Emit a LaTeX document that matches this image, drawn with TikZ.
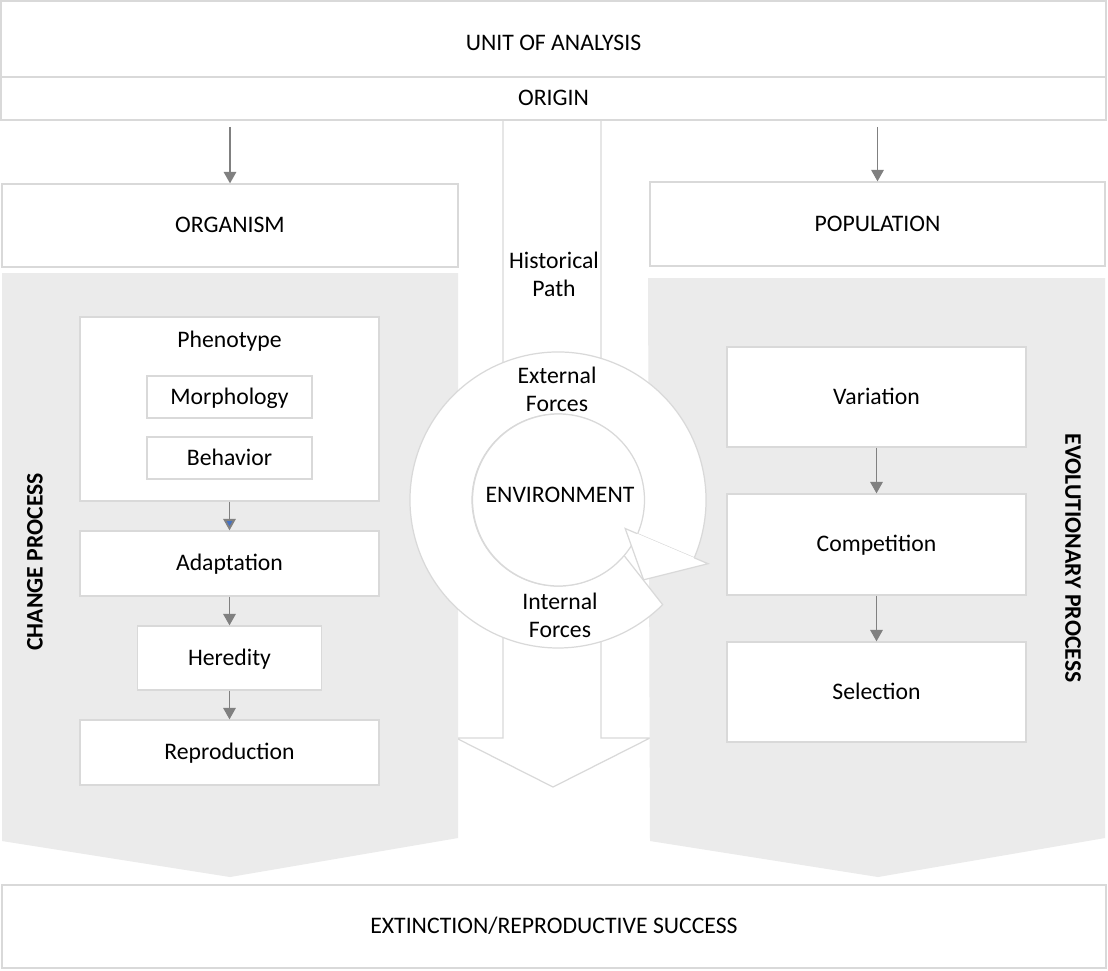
\documentclass[tikz,border=0pt]{standalone}
\usepackage{fontspec}
\setmainfont{Carlito}
\usepackage{tikz}
\usetikzlibrary{arrows.meta}
\usetikzlibrary{positioning}

\definecolor{panelgray}{HTML}{EBEBEB}
\definecolor{boxline}{HTML}{D9D9D9}
\definecolor{arrgray}{HTML}{808080}
\definecolor{headblue}{HTML}{4472C4}

\begin{document}
\begin{tikzpicture}[x = 0.02cm, y = -0.02cm,
  every node/.style = {font = \fontsize{13.5}{16}\selectfont, inner sep = 0pt},
  line/.style = {text height = 11pt, text depth = 2.5pt},
  box/.style = {line, draw = boxline, line width = 0.7pt, fill = white},
  panel/.style = {fill = panelgray},
  arr/.style = {draw = arrgray, line width = 1.1pt, -{Triangle[length = 6.5pt, width = 7pt]}},
  vlabel/.style = {font = \fontsize{13.5}{16}\selectfont\bfseries}]
\useasboundingbox (0, 0) rectangle (1108, 970);
\fill[white] (0, 0) rectangle (1108, 970);
% historical path
\draw[box] (503, 120) -- (503, 738) -- (456, 738) -- (553, 787) -- (650, 738) -- (601, 738) -- (601, 120);
% panels
\fill[panel] (2, 273) -- (458, 273) -- (458, 838) -- (230, 877) -- (2, 841) -- cycle;
\fill[panel] (648, 278) -- (1105, 278) -- (1105, 838) -- (878, 877) -- (650, 841) -- cycle;
% top and bottom
\node[box, minimum width = 22.1cm, minimum height = 1.52cm, text height = 14pt, text depth = 0.7pt] (unit) at (553.5, 39) {UNIT OF ANALYSIS};
\node[box, minimum width = 22.1cm, minimum height = 0.86cm] (origin) at (553.5, 98.5) {ORIGIN};
\node[box, minimum width = 22.08cm, minimum height = 1.66cm] (extinct) at (554, 926.5) {EXTINCTION/REPRODUCTIVE SUCCESS};
\node[box, minimum width = 9.12cm, minimum height = 1.66cm] (organism) at (230, 225.5) {ORGANISM};
\node[box, minimum width = 9.1cm, minimum height = 1.68cm] (population) at (877.5, 224) {POPULATION};
% left side
\node[box, minimum width = 5.98cm, minimum height = 3.68cm] (pheno) at (229.5, 409) {};
\node[line] (phenotext) at (229.5, 340) {Phenotype};
\node[box, minimum width = 3.3cm, minimum height = 0.84cm] (morph) at (229.5, 397) {Morphology};
\node[box, minimum width = 3.3cm, minimum height = 0.84cm] (behav) at (229.5, 458) {Behavior};
\node[box, minimum width = 5.98cm, minimum height = 1.3cm] (adapt) at (229.5, 563.5) {Adaptation};
\node[box, minimum width = 3.68cm, minimum height = 1.28cm] (hered) at (229.5, 658) {Heredity};
\node[box, minimum width = 5.98cm, minimum height = 1.3cm] (repro) at (229.5, 752.5) {Reproduction};
\node[vlabel, rotate = 90] (change) at (35, 562) {CHANGE PROCESS};
% right side
\node[box, minimum width = 5.98cm, minimum height = 2cm] (var) at (876.5, 397) {Variation};
\node[box, minimum width = 5.98cm, minimum height = 2.02cm] (comp) at (876.5, 544.5) {Competition};
\node[box, minimum width = 5.98cm, minimum height = 2cm] (select) at (876.5, 692) {Selection};
\node[vlabel, rotate = -90] (evol) at (1073, 558) {EVOLUTIONARY PROCESS};
% circular arrow
\begin{scope}[shift = {(558, 500)}, yscale = -1]
\draw[box] (-23:148) arc [start angle = -23, end angle = 315, radius = 148] -- (320:86)
  arc [start angle = 320, end angle = -23, radius = 86] -- cycle;
\end{scope}
\node[box, circle, minimum size = 3.44cm] (env) at (558.5, 500) {};
\node[line] (envtext) at (560, 495) {ENVIRONMENT};
\begin{scope}[shift = {(558, 500)}, yscale = -1]
\fill[white] (-23:86) -- (-23:73) -- (-43:117) -- (-23:163) -- (-23:148) -- cycle;
\draw[boxline, line width = 0.7pt] (-23:86) -- (-23:73) -- (-43:117) -- (-23:163) -- (-23:148);
\end{scope}
\node[align = center] (hist) at (554, 274) {Historical\\Path};
\node[align = center] (ext) at (557, 389) {External\\Forces};
\node[align = center] (int) at (560, 615) {Internal\\Forces};
% connectors
\draw[arr, shorten <= 3.5pt] (origin.south -| organism.north) -- (organism.north);
\draw[arr, shorten <= 3.5pt] (origin.south -| population.north) -- (population.north);
\draw[arr, -{Triangle[length = 6.5pt, width = 7pt, fill = headblue]}] (pheno) -- (adapt);
\draw[arr] (adapt) -- (hered);
\draw[arr] (hered) -- (repro);
\draw[arr] (var) -- (comp);
\draw[arr] (comp) -- (select);
\end{tikzpicture}
\end{document}
